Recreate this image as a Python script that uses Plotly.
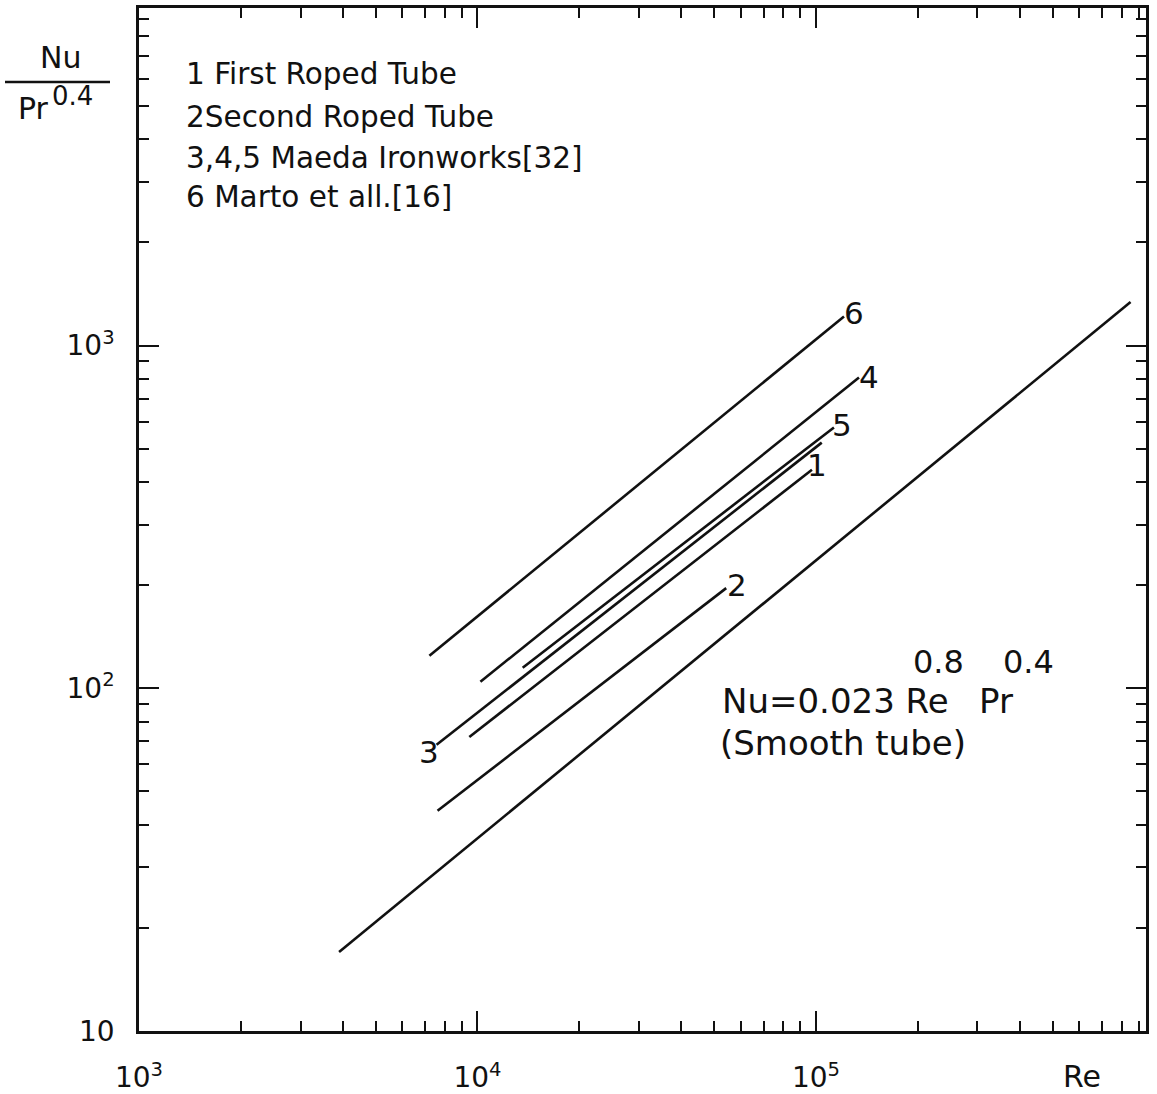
import math
import plotly.graph_objects as go

# ---- data (Re on x, Nu/Pr^0.4 on y) ----
smooth_re = [3900, 850000]
smooth_nu = [17.0, 1340]

re_1 = [9460, 97300]
nu_1 = [72.1, 434]
re_2 = [7620, 54300]
nu_2 = [43.9, 196]
re_3 = [7570, 104000]
nu_3 = [68.4, 521]
re_4 = [10200, 134000]
nu_4 = [104.5, 807]
re_5 = [13600, 113000]
nu_5 = [114.8, 577]
re_6 = [7210, 121000]
nu_6 = [124.5, 1216]

curve_labels = ["1", "2", "3", "4", "5", "6"]
label_re = [100700, 58500, 7210, 143000, 119000, 129500]
label_nu = [447, 200, 65.3, 807, 588, 1248]

x_tickvals = [1e3, 1e4, 1e5]
x_ticktext = ["10<sup>3</sup>", "10<sup>4</sup>", "10<sup>5</sup>"]
y_tickvals = [10, 100, 1000]
y_ticktext = ["10", "10<sup>2</sup>", "10<sup>3</sup>"]

legend_lines = ["1 First Roped Tube", "2Second Roped Tube",
                "3,4,5 Maeda Ironworks[32]", "6 Marto et all.[16]"]

FONT = "DejaVu Sans"
W, H = 1157, 1094
ML, MR, MT, MB = 139, 11, 8, 63
PW, PH = W - ML - MR, H - MT - MB


def px(xp):
    return (xp - ML) / PW


def py(yp):
    return (H - MB - yp) / PH


fig = go.Figure()
line_style = dict(color="#111111", width=2.6)
for xs, ys in [(smooth_re, smooth_nu), (re_1, nu_1), (re_2, nu_2), (re_3, nu_3),
               (re_4, nu_4), (re_5, nu_5), (re_6, nu_6)]:
    fig.add_trace(go.Scatter(x=xs, y=ys, mode="lines", line=line_style,
                             showlegend=False, hoverinfo="skip"))

ann = []
for t, xv, yv in zip(curve_labels, label_re, label_nu):
    ann.append(dict(x=math.log10(xv), y=math.log10(yv), xref="x", yref="y",
                    text=t, showarrow=False, font=dict(family=FONT, size=31, color="#111")))

legend_y = [74, 117, 158, 197]
for t, yv in zip(legend_lines, legend_y):
    ann.append(dict(x=px(184), y=py(yv), xref="paper", yref="paper", text=t,
                    xanchor="left", yanchor="middle", showarrow=False,
                    font=dict(family=FONT, size=29.5, color="#111")))


def txt(x, y, t, size, anchor="center"):
    return dict(x=px(x), y=py(y), xref="paper", yref="paper", text=t,
                xanchor=anchor, yanchor="middle", showarrow=False,
                font=dict(family=FONT, size=size, color="#111"))


ann += [
    # formula
    txt(720, 701, "Nu=0.023 Re", 34, "left"),
    txt(938, 662, "0.8", 32),
    txt(996, 701, "Pr", 34),
    txt(1028, 662, "0.4", 32),
    txt(718, 743, "(Smooth tube)", 34, "left"),
    # axis titles
    txt(1082, 1076, "Re", 30),
    txt(60, 58, "Nu", 30),
    txt(33, 108, "Pr", 30),
    txt(72, 96, "0.4", 26),
]

fig.add_shape(type="line", xref="paper", yref="paper",
              x0=px(5), x1=px(110), y0=py(82), y1=py(82),
              line=dict(color="#111", width=2.5))

axis_common = dict(type="log", showgrid=False, zeroline=False, showline=True,
                   automargin=False,
                   linecolor="#111", linewidth=2.5, mirror="allticks",
                   ticks="inside", ticklen=20, tickwidth=2, tickcolor="#111",
                   tickfont=dict(family=FONT, size=28, color="#111"),
                   minor=dict(ticks="inside", ticklen=10, tickwidth=1.6,
                              tickcolor="#111", dtick="D1", showgrid=False))

fig.update_xaxes(**axis_common, range=[3, 5.975], tickmode="array",
                 tickvals=x_tickvals, ticktext=x_ticktext, ticklabelstandoff=20)
fig.update_yaxes(**axis_common, range=[1, 3.985], tickmode="array",
                 tickvals=y_tickvals, ticktext=y_ticktext, ticklabelstandoff=16)

fig.update_layout(width=W, height=H, margin=dict(l=ML, r=MR, t=MT, b=MB),
                  plot_bgcolor="white", paper_bgcolor="white",
                  annotations=ann, font=dict(family=FONT, color="#111"))

fig.write_html("out.html", config={"displayModeBar": False},
               post_script="document.body.style.margin='0';document.body.style.overflow='hidden';")
